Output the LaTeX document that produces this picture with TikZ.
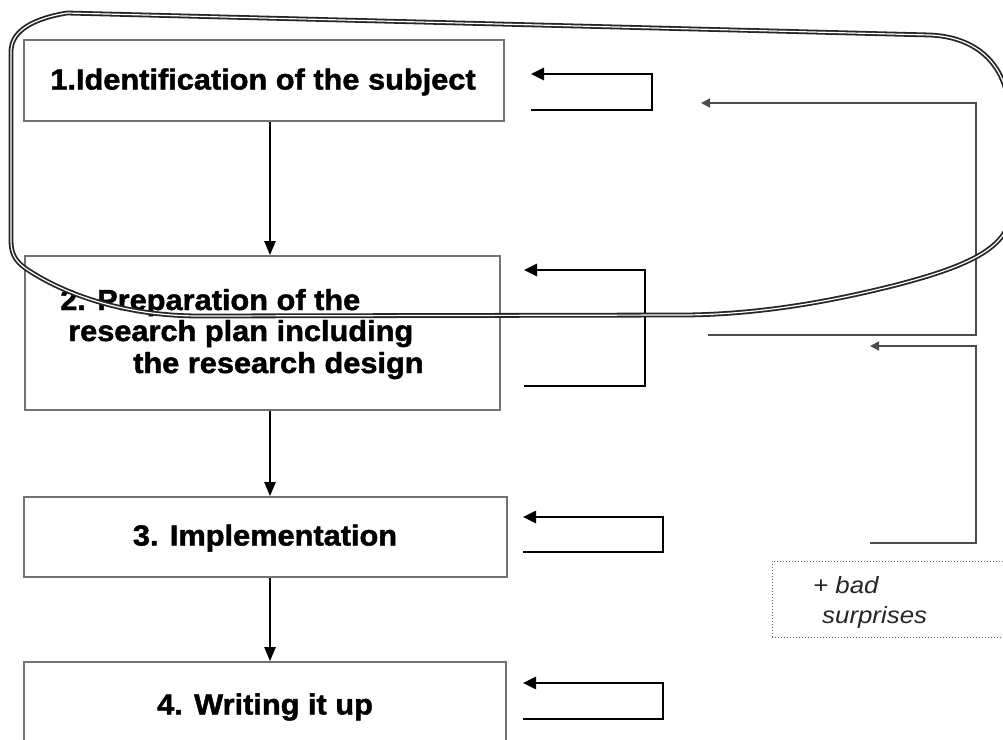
\documentclass[tikz,border=0pt]{standalone}
\usepackage{fontspec}
\usetikzlibrary{arrows.meta}
\newfontfamily\stagefont[FakeStretch=1.06,FakeBold=1.6]{Liberation Sans}
\newfontfamily\notefont[FakeStretch=1.1]{Liberation Sans}
\begin{document}
\begin{tikzpicture}[x=1pt,y=-1pt,
  stagebox/.style={draw=black!55, line width=1.7pt, rectangle, inner sep=0pt},
  stagetext/.style={font=\stagefont\bfseries\fontsize{29}{31.5}\selectfont, inner sep=0pt},
  flow/.style={-{Triangle[length=14pt,width=11pt]}, line width=2.2pt},
  back/.style={-{Triangle[length=13pt,width=12pt]}, line width=2.6pt},
  greyback/.style={-{Triangle[length=9pt,width=9pt]}, draw=black!70, line width=1.6pt},
  loopline/.style={draw=black!85, double=white, line width=1.8pt, double distance=1.2pt},
  hint/.style={draw=black!60, dotted, line width=1pt, rectangle, inner sep=0pt},
  notetext/.style={font=\notefont\itshape\fontsize{23.5}{28}\selectfont, text=black!85, inner sep=0pt}]

\useasboundingbox (0,0) rectangle (1003,739);
\fill[white] (0,0) rectangle (1003,739);
\clip (0,0) rectangle (1003,739);

% the four stages
\node[stagebox, minimum width=480pt, minimum height=81pt] (b1) at (264,80.5) {};
\node[stagetext] (t1) at (263,82) {1.Identification of the subject};

\node[stagebox, minimum width=475pt, minimum height=154pt] (b2) at (262.5,333) {};
\node[stagetext, anchor=base west] (t2a) at (60,310) {2. Preparation of the};
\node[stagetext, anchor=base west] (t2b) at (68,341) {research plan including};
\node[stagetext, anchor=base west] (t2c) at (133,373) {the research design};

\node[stagebox, minimum width=483pt, minimum height=80pt] (b3) at (265.5,537) {};
\node[stagetext] (t3) at (265,538) {3. Implementation};

\node[stagebox, minimum width=482pt, minimum height=90pt] (b4) at (265,707) {};
\node[stagetext] (t4) at (265,707) {4. Writing it up};

% downward flow
\coordinate (spine) at (270,0);
\draw[flow] (b1.south -| spine) -- (b2.north -| spine);
\draw[flow] (b2.south -| spine) -- (b3.north -| spine);
\draw[flow] (b3.south -| spine) -- (b4.north -| spine);

% rework loops beside each stage
\coordinate (r1in) at (531,74);  \coordinate (r1out) at (531,110);
\coordinate (r2in) at (524,270); \coordinate (r2out) at (524,386);
\coordinate (r3in) at (523,517); \coordinate (r3out) at (523,552);
\coordinate (r4in) at (523,683); \coordinate (r4out) at (523,719);
\draw[back] (r1out) -| (652,74) -- (r1in);
\draw[back] (r2out) -| (645,270) -- (r2in);
\draw[back] (r3out) -| (663,517) -- (r3in);
\draw[back] (r4out) -| (663,683) -- (r4in);

% returns to the first stage
\coordinate (g1in) at (701,103);  \coordinate (g1out) at (708,335);
\coordinate (g2in) at (870,346);  \coordinate (g2out) at (870,543);
\draw[greyback] (g1out) -| (976,103) -- (g1in);
\draw[greyback] (g2out) -| (976,346) -- (g2in);

% surprises
\node[hint, minimum width=250pt, minimum height=76pt] (bad) at (897,599) {};
\node[notetext, anchor=base west] (s1) at (813,593) {+ bad};
\node[notetext, anchor=base west] (s2) at (822,623) {surprises};

% outline round the first stage
\draw[loopline] (67,13) -- (930,35)
  .. controls (975,37) and (1002,62) .. (1008,100)
  -- (1010,215)
  .. controls (1008,250) and (960,268) .. (900,284)
  .. controls (830,302) and (760,314) .. (687,315)
  -- (200,316)
  .. controls (120,316) and (60,292) .. (25,268)
  .. controls (14,260) and (11,252) .. (11,240)
  -- (11,50)
  .. controls (12,35) and (25,20) .. cycle;
\end{tikzpicture}
\end{document}
